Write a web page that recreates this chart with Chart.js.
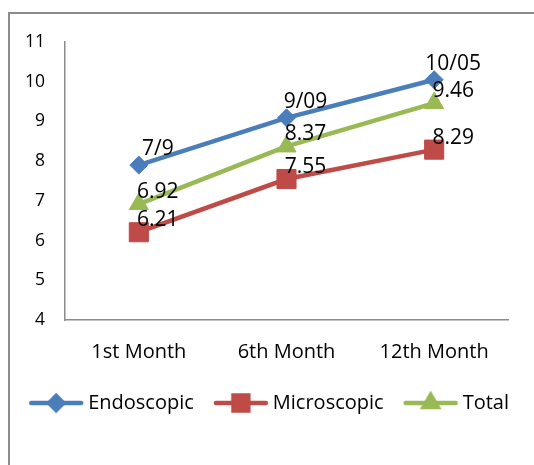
<!DOCTYPE html>
<html>
<head>
<meta charset="utf-8">
<script src="https://cdn.jsdelivr.net/npm/chart.js@4"></script>
<style>
    html, body { margin: 0; padding: 0; background: #fff; overflow: hidden; }
    #frame {
        position: absolute; left: 8px; top: 12px; width: 600px; height: 520px;
        border: 2px solid #8c8c8c;
    }
    #wrap { position: absolute; left: 0; top: 0; width: 534px; height: 465px; }
</style>
</head>
<body>
<div id="frame"></div>
<div id="wrap"><canvas id="chart"></canvas></div>
<script>
const categories = ["1st Month", "6th Month", "12th Month"];
const endoscopic = [7.9, 9.09, 10.05];
const endoscopicLabels = ["7/9", "9/09", "10/05"];
const microscopic = [6.21, 7.55, 8.29];
const microscopicLabels = ["6.21", "7.55", "8.29"];
const total = [6.92, 8.37, 9.46];
const totalLabels = ["6.92", "8.37", "9.46"];
const yTicks = [4, 5, 6, 7, 8, 9, 10, 11];

const FONT = "'Open Sans', sans-serif";
const BLUE = "#4a7ebb";
const RED = "#be4b48";
const GREEN = "#98b954";

// legend swatch: a short line with a smaller marker in the middle
const makeSwatch = (color, style, radius) => {
    const c = document.createElement("canvas");
    c.width = 56;
    c.height = 24;
    const ctx = c.getContext("2d");
    ctx.strokeStyle = color;
    ctx.lineWidth = 4.5;
    ctx.lineCap = "round";
    ctx.beginPath();
    ctx.moveTo(3, 12);
    ctx.lineTo(53, 12);
    ctx.stroke();
    Chart.helpers.drawPoint(ctx, { pointStyle: style, radius, borderWidth: 1 }, 28, 12);
    ctx.fillStyle = color;
    ctx.fill();
    return c;
};

const valueLabels = {
    id: "value-labels",
    afterDatasetsDraw(chart) {
        const { ctx } = chart;
        ctx.save();
        ctx.fillStyle = "#000";
        ctx.font = "21px " + FONT;
        ctx.textAlign = "center";
        ctx.textBaseline = "middle";
        chart.data.datasets.forEach((ds, di) => {
            chart.getDatasetMeta(di).data.forEach((pt, i) => {
                ctx.fillText(ds.valueText[i], pt.x + 19, pt.y + ds.labelDy);
            });
        });
        ctx.restore();
    },
};

const series = (label, data, texts, color, style, radius, legendRadius, dy) => ({
    label,
    data,
    valueText: texts,
    labelDy: dy,
    borderColor: color,
    backgroundColor: color,
    borderWidth: 4.5,
    pointStyle: style,
    pointRadius: radius,
    pointHoverRadius: radius,
    pointBorderWidth: 1,
    pointBackgroundColor: color,
    pointBorderColor: color,
    tension: 0,
    swatch: makeSwatch(color, style, legendRadius),
});

new Chart(document.getElementById("chart"), {
    type: "line",
    data: {
        labels: categories,
        datasets: [
            series("Endoscopic", endoscopic, endoscopicLabels, BLUE, "rectRot", 9, 7, -16),
            series("Microscopic", microscopic, microscopicLabels, RED, "rect", 13.5, 10.5, -12),
            series("Total", total, totalLabels, GREEN, "triangle", 11, 8, -12),
        ],
    },
    options: {
        responsive: true,
        maintainAspectRatio: false,
        animation: false,
        layout: { padding: { top: 42, right: 0, left: 0, bottom: 42 } },
        plugins: {
            tooltip: { enabled: false },
            legend: {
                position: "bottom",
                align: "end",
                labels: {
                    usePointStyle: true,
                    pointStyleWidth: 44,
                    boxHeight: 20,
                    padding: 25,
                    color: "#000",
                    font: { family: FONT, size: 20 },
                    generateLabels: (chart) =>
                        chart.data.datasets.map((ds, i) => ({
                            text: ds.label,
                            pointStyle: ds.swatch,
                            fillStyle: ds.borderColor,
                            strokeStyle: ds.borderColor,
                            lineWidth: 0,
                            datasetIndex: i,
                            fontColor: "#000",
                        })),
                },
            },
        },
        scales: {
            x: {
                offset: true,
                grid: { display: false, drawTicks: false },
                border: { display: true, color: "#8c8c8c", width: 1.5 },
                ticks: {
                    color: "#000",
                    padding: 20,
                    font: { family: FONT, size: 20 },
                    maxRotation: 0,
                },
                afterFit: (axis) => { axis.height = 48; },
            },
            y: {
                min: 4,
                max: 11,
                afterBuildTicks: (axis) => {
                    axis.ticks = yTicks.map((v) => ({ value: v }));
                },
                grid: { display: false, drawTicks: false },
                border: { display: true, color: "#8c8c8c", width: 1.5 },
                ticks: {
                    color: "#000",
                    padding: 20,
                    font: { family: FONT, size: 17.5 },
                },
                afterFit: (axis) => { axis.width = 65; },
            },
            // empty right-hand axis, only keeps the plot clear of the right edge
            yRight: {
                position: "right",
                min: 4,
                max: 11,
                grid: { display: false, drawTicks: false },
                border: { display: false },
                ticks: { display: false },
                afterFit: (axis) => { axis.width = 26; },
            },
        },
    },
    plugins: [valueLabels],
});
</script>
</body>
</html>
